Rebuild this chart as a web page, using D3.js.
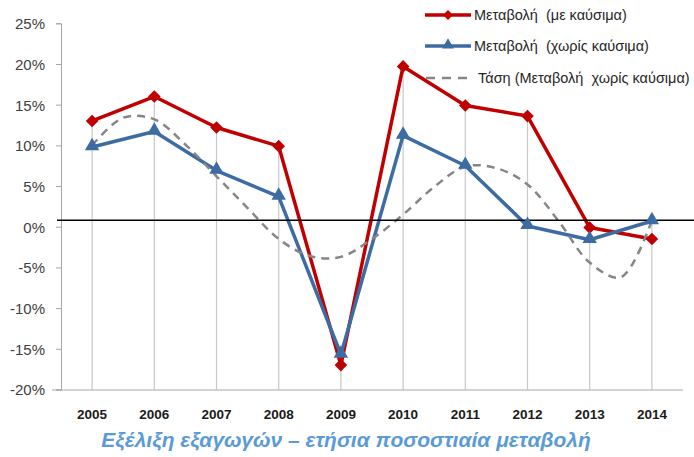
<!DOCTYPE html>
<html>
<head>
<meta charset="utf-8">
<script src="https://cdn.jsdelivr.net/npm/d3@7.9.0/dist/d3.min.js"></script>
<style>
  body { margin: 0; background: #fff; }
  svg { display: block; font-family: "Liberation Sans", Arial, sans-serif; }
</style>
</head>
<body>
<svg id="chart" width="694" height="457"></svg>
<script>
const years = ['2005', '2006', '2007', '2008', '2009', '2010', '2011', '2012', '2013', '2014'];
const withFuel = [13.0, 16.0, 12.2, 9.9, -17.0, 19.7, 14.9, 13.6, -0.1, -1.5];
const withoutFuel = [9.8, 11.7, 6.9, 3.7, -15.7, 11.2, 7.5, 0.1, -1.6, 0.7];
// trend read at every half year (index 0 = 2005, step 0.5)
const trendPos = [0, 0.5, 1, 1.5, 2, 2.5, 3, 3.5, 4, 4.5, 5, 5.5, 6, 6.5, 7, 7.5, 8, 8.5, 9];
const trendVals = [10.0, 13.4, 13.2, 10.1, 6.2, 2.3, -1.5, -3.6, -3.7, -1.5, 1.5, 4.9, 7.4, 7.2, 5.2, 0.7, -4.4, -6.2, 0.8];
const yTicks = [25, 20, 15, 10, 5, 0, -5, -10, -15, -20];
const refLine = 0.8;
const legendLabels = ['Μεταβολή  (με καύσιμα)', 'Μεταβολή  (χωρίς καύσιμα)', 'Τάση (Μεταβολή  χωρίς καύσιμα)'];
const title = 'Εξέλιξη εξαγωγών – ετήσια ποσοστιαία μεταβολή';

const red = '#c00000';
const blue = '#3d6ca3';
const grey = '#868686';

const svg = d3.select('#chart');
const x = d3.scaleBand().domain(years).range([61, 683]);
const cx = (i) => x(years[i]) + x.bandwidth() / 2;
const y = d3.scaleLinear().domain([-20, 25]).range([389.5, 23.3]);

// drop lines
svg.append('g').selectAll('line')
  .data(years)
  .join('line')
  .attr('x1', (d, i) => cx(i)).attr('x2', (d, i) => cx(i))
  .attr('y1', (d, i) => y(Math.max(withFuel[i], withoutFuel[i])))
  .attr('y2', y(-20))
  .attr('stroke', '#c8c8c8').attr('stroke-width', 1.2);

// y axis
const yAxis = svg.append('g').attr('transform', 'translate(61,0)')
  .call(d3.axisLeft(y).tickValues(yTicks).tickSize(5).tickFormat((d) => d + '%'));
yAxis.select('.domain').attr('stroke', '#a6a6a6');
yAxis.selectAll('.tick line').attr('stroke', '#a6a6a6');
yAxis.selectAll('.tick text')
  .attr('x', -16).attr('dy', '0.36em')
  .attr('font-size', 15).attr('fill', '#404040')
  .attr('font-family', '"Liberation Sans", Arial, sans-serif');

// x axis
const xAxis = svg.append('g').attr('transform', `translate(0,${y(-20)})`)
  .call(d3.axisBottom(x).tickSize(0).tickSizeOuter(0));
xAxis.select('.domain').attr('stroke', '#a6a6a6').attr('d', `M52,0.5H683`);
xAxis.selectAll('.tick text')
  .attr('y', 20).attr('font-size', 13.5).attr('font-weight', 'bold').attr('fill', '#1a1a1a')
  .attr('font-family', '"Liberation Sans", Arial, sans-serif');

const line = d3.line().x((d, i) => cx(i)).y((d) => y(d));

svg.append('path').datum(withFuel).attr('d', line)
  .attr('fill', 'none').attr('stroke', red).attr('stroke-width', 3.5).attr('stroke-linejoin', 'round');
svg.append('path').datum(withoutFuel).attr('d', line)
  .attr('fill', 'none').attr('stroke', blue).attr('stroke-width', 3.5).attr('stroke-linejoin', 'round');

const trendLine = d3.line()
  .x((d, i) => x(years[0]) + x.bandwidth() / 2 + trendPos[i] * x.step())
  .y((d) => y(d))
  .curve(d3.curveCatmullRom.alpha(0.5));
svg.append('path').datum(trendVals).attr('d', trendLine)
  .attr('fill', 'none').attr('stroke', grey).attr('stroke-width', 2.5)
  .attr('stroke-dasharray', '8,6');

// reference line
svg.append('line')
  .attr('x1', 57).attr('x2', 694)
  .attr('y1', y(refLine)).attr('y2', y(refLine))
  .attr('stroke', '#000').attr('stroke-width', 1.3);

const diamond = d3.symbol(d3.symbolSquare, 80);
const triangle = d3.symbol(d3.symbolTriangle, 90);

svg.append('g').selectAll('path')
  .data(withFuel)
  .join('path')
  .attr('d', diamond)
  .attr('transform', (d, i) => `translate(${cx(i)},${y(d)}) rotate(45)`)
  .attr('fill', red);

svg.append('g').selectAll('path')
  .data(withoutFuel)
  .join('path')
  .attr('d', triangle)
  .attr('transform', (d, i) => `translate(${cx(i)},${y(d) - 1})`)
  .attr('fill', blue);

// legend
const legendY = [15, 46, 78];
const legend = svg.append('g');
legend.append('line').attr('x1', 425).attr('x2', 471).attr('y1', legendY[0]).attr('y2', legendY[0])
  .attr('stroke', red).attr('stroke-width', 3.5);
legend.append('path').attr('d', d3.symbol(d3.symbolSquare, 50))
  .attr('transform', `translate(448,${legendY[0]}) rotate(45)`).attr('fill', red);
legend.append('line').attr('x1', 425).attr('x2', 471).attr('y1', legendY[1]).attr('y2', legendY[1])
  .attr('stroke', blue).attr('stroke-width', 3.5);
legend.append('path').attr('d', d3.symbol(d3.symbolTriangle, 60))
  .attr('transform', `translate(448,${legendY[1] - 1})`).attr('fill', blue);
legend.append('line').attr('x1', 426).attr('x2', 474).attr('y1', legendY[2]).attr('y2', legendY[2])
  .attr('stroke', grey).attr('stroke-width', 2.5).attr('stroke-dasharray', '9,7');

legend.selectAll('text')
  .data(legendLabels)
  .join('text')
  .attr('x', (d, i) => (i === 2 ? 478 : 474))
  .attr('y', (d, i) => legendY[i])
  .attr('dy', '0.35em')
  .attr('font-size', 14.5)
  .attr('fill', '#262626')
  .style('white-space', 'pre')
  .text((d) => d);

svg.append('text')
  .attr('x', 346).attr('y', 447)
  .attr('text-anchor', 'middle')
  .attr('font-size', 21).attr('font-weight', 'bold').attr('font-style', 'italic')
  .attr('fill', '#5b9bd5')
  .text(title);
</script>
</body>
</html>
